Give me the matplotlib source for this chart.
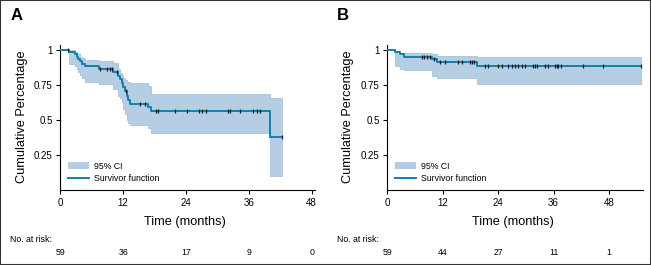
import matplotlib
matplotlib.use("Agg")
import matplotlib.pyplot as plt
from matplotlib.patches import Rectangle, Patch
from matplotlib.lines import Line2D

# Panel A: Kaplan-Meier estimate with 95% CI
a_time = [0, 1.6, 2.8, 3.1, 3.4, 3.8, 4.1, 4.7, 7.3, 10.1, 11.1, 11.4, 11.7, 12.0,
          12.35, 12.7, 13.0, 13.3, 16.8, 17.4, 40.0, 42.4]
a_surv = [1.0, 0.983, 0.966, 0.949, 0.932, 0.915, 0.898, 0.881, 0.862, 0.843, 0.815,
          0.79, 0.765, 0.735, 0.705, 0.672, 0.64, 0.612, 0.588, 0.564, 0.376, 0.376]
a_upper = [1.0, 1.0, 0.985, 0.975, 0.965, 0.95, 0.94, 0.925, 0.92, 0.905, 0.86,
           0.83, 0.82, 0.80, 0.785, 0.77, 0.77, 0.765, 0.74, 0.68, 0.655, 0.655]
a_lower = [1.0, 0.90, 0.88, 0.86, 0.84, 0.82, 0.80, 0.77, 0.755, 0.72, 0.67,
           0.655, 0.63, 0.58, 0.54, 0.50, 0.48, 0.465, 0.44, 0.405, 0.10, 0.10]
a_cens = [1.5, 7.6, 8.9, 9.4, 9.9, 10.8, 12.5, 15.3, 16.2, 18.3, 18.7, 21.9, 24.1,
          26.5, 27.0, 27.9, 32.1, 32.4, 34.3, 36.8, 37.5, 38.1, 42.4]
a_risk = ["59", "36", "17", "9", "0"]

# Panel B
b_time = [0, 1.7, 2.8, 3.5, 9.6, 10.7, 19.35, 55.0]
b_surv = [1.0, 0.983, 0.966, 0.95, 0.932, 0.913, 0.886, 0.886]
b_upper = [1.0, 0.985, 0.978, 0.976, 0.969, 0.957, 0.945, 0.945]
b_lower = [1.0, 0.886, 0.862, 0.855, 0.814, 0.80, 0.755, 0.755]
b_cens = [7.4, 8.0, 8.5, 9.2, 10.2, 11.4, 12.5, 15.4, 16.1, 17.9, 18.4, 18.8, 21.1,
          21.9, 24.0, 24.8, 26.2, 26.9, 27.6, 28.4, 29.1, 29.8, 31.6, 32.0, 32.3,
          34.1, 34.8, 36.3, 36.7, 37.0, 37.7, 42.4, 46.8, 55.0]
b_risk = ["59", "44", "27", "11", "1"]

risk_ticks = [0, 12, 24, 36, 48]

FILL = "#b6cee4"
LINE = "#1280ab"
SANS = ["Liberation Sans", "DejaVu Sans"]

plt.rcParams["font.family"] = SANS

fig = plt.figure(figsize=(6.51, 2.65), dpi=100)


def surv_at(times, surv, t):
    val = surv[0]
    for ti, si in zip(times, surv):
        if ti <= t:
            val = si
    return val


def draw_panel(rect, times, surv, upper, lower, cens, risk, xmax, letter):
    ax = fig.add_axes(rect)
    ax.fill_between(times, lower, upper, step="post", color=FILL,
                    edgecolor="#9fbcd9", linewidth=0.5, zorder=1)
    ax.step(times, surv, where="post", color=LINE, lw=1.4, zorder=3)
    cy = [surv_at(times, surv, t) for t in cens]
    ax.plot(cens, cy, ls="none", marker="|", ms=3, mew=0.9,
            color="#1b1b1b", zorder=4)

    ax.set_xlim(0, xmax)
    ax.set_ylim(0, 1.03)
    ax.set_xticks(risk_ticks)
    ax.set_yticks([0.25, 0.5, 0.75, 1])
    ax.set_yticklabels(["0.25", "0.5", "0.75", "1"])
    for s in ["top", "right"]:
        ax.spines[s].set_visible(False)
    for s in ["left", "bottom"]:
        ax.spines[s].set_linewidth(0.8)
    ax.tick_params(direction="out", length=3, width=0.8, labelsize=7, pad=2.5)

    ax.text(0.49, -0.22, "Time (months)", transform=ax.transAxes,
            ha="center", va="center", fontsize=9.2)
    ax.text(-0.152, 0.51, "Cumulative Percentage", transform=ax.transAxes,
            rotation=90, ha="center", va="center", fontsize=9.2)

    handles = [Patch(facecolor=FILL, edgecolor="none"),
               Line2D([], [], color=LINE, lw=1.4)]
    ax.legend(handles, ["95% CI", "Survivor function"], loc="lower left",
              bbox_to_anchor=(0.03, 0.045), frameon=False, fontsize=6.3,
              handlelength=2.4, handleheight=1.0, handletextpad=0.55,
              labelspacing=0.45, borderpad=0, borderaxespad=0)

    tr = ax.get_xaxis_transform()
    for t, n in zip(risk_ticks, risk):
        ax.text(t, -0.43, n, transform=tr, ha="center", va="center",
                fontsize=6.3, clip_on=False)

    fig.text(rect[0] - 0.077, 1 - 16 / 265, letter, fontsize=12,
             fontweight="bold", ha="left", va="center")
    fig.text(rect[0] - 0.078, 1 - 240 / 265, "No. at risk:", fontsize=6.3,
             ha="left", va="center")
    return ax


draw_panel([0.0926, 0.283, 0.391, 0.546], a_time, a_surv, a_upper, a_lower,
           a_cens, a_risk, 48.6, "A")
draw_panel([0.595, 0.283, 0.393, 0.546], b_time, b_surv, b_upper, b_lower,
           b_cens, b_risk, 55.4, "B")

fig.patches.append(Rectangle((0, 0), 1, 1, transform=fig.transFigure,
                             fill=False, edgecolor="#333333", lw=1.5))

fig.savefig("out.png", dpi=100)
